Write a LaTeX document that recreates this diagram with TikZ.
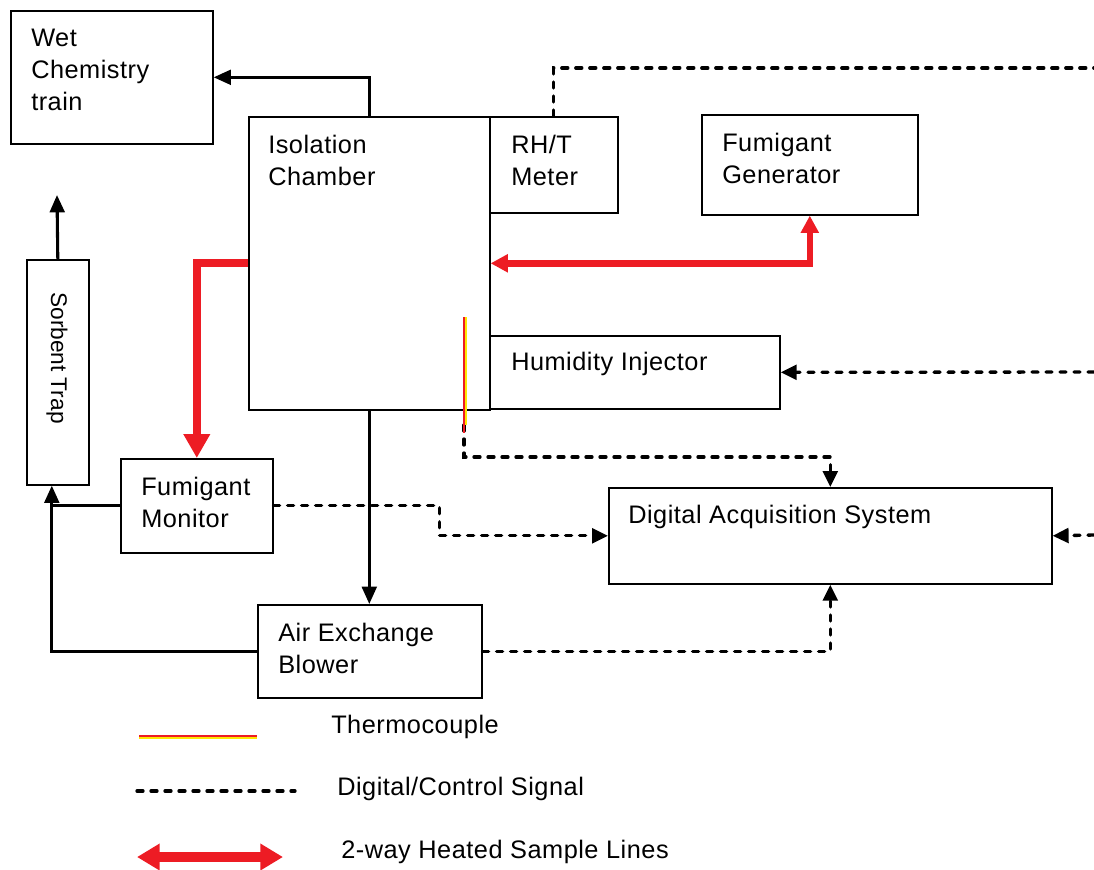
\documentclass[tikz,border=0pt]{standalone}
\usepackage{fontspec}
\setmainfont{Liberation Sans}[LetterSpace=2.0]
\newfontfamily\plainfont{Liberation Sans}
\usetikzlibrary{arrows.meta}
\definecolor{heatred}{RGB}{237,28,36}
\definecolor{tcyellow}{RGB}{255,230,0}
\newcommand{\px}{0.75pt}
\tikzset{
  box/.style={draw, line width=1.2pt, anchor=north west, inner sep=0pt},
  txt/.style={anchor=north west, inner sep=0pt, align=left, font=\fontsize{19}{24}\selectfont},
  flow/.style={line width=2.3pt, -{Triangle[length=13pt, width=11pt]}},
  signal/.style={line width=2.5pt, line cap=round, dash pattern=on 4.5pt off 6pt, -{Triangle[length=12pt, width=11pt]}},
  heat/.style={draw=heatred, line width=4.8pt, -{Triangle[length=13pt, width=13pt, fill=heatred]}},
}
\begin{document}
\begin{tikzpicture}[x=\px, y=-\px]
\useasboundingbox (0,0) rectangle (1094,869);
\node[box, minimum width=202*\px, minimum height=133*\px](wct)at(10,10){};
\node[box, minimum width=241*\px, minimum height=293*\px](iso)at(248,116){};
\node[box, minimum width=128*\px, minimum height=96*\px](rht)at(489,116){};
\node[box, minimum width=216*\px, minimum height=100*\px](fgen)at(701,114){};
\node[box, minimum width=290*\px, minimum height=73*\px](hinj)at(489,335){};
\node[box, minimum width=62*\px, minimum height=225*\px](sorb)at(26,259){};
\node[box, minimum width=152*\px, minimum height=94*\px](fmon)at(120,458){};
\node[box, minimum width=443*\px, minimum height=96*\px](das)at(608,487){};
\node[box, minimum width=224*\px, minimum height=93*\px](aeb)at(257,604){};
%
\node[txt](wctT)at(31,29){Wet\\Chemistry\\train};
\node[txt](isoT)at(268,135){Isolation\\Chamber};
\node[txt](rhtT)at(511,135){RH/T\\Meter};
\node[txt](fgenT)at(722,133){Fumigant\\Generator};
\node[txt](hinjT)at(511,352){Humidity Injector};
\node[txt](fmonT)at(141,477){Fumigant\\Monitor};
\node[txt](dasT)at(628,505){Digital Acquisition System};
\node[txt](aebT)at(278,623){Air Exchange\\Blower};
\node[txt, anchor=center, rotate=-90, font=\plainfont\fontsize{17}{20}\selectfont](sorbT)at(57,358){Sorbent Trap};
%
\coordinate(rhtout)at(1094,68);
\coordinate(hinjin)at(1094,372);
\coordinate(dasin)at(1094,535);
\coordinate(sorbout)at(57,195);
\coordinate(sorbin)at([xshift=-4.5pt]sorb.south);
\coordinate(tc)at(464,317);
\coordinate(tcend)at(464,425);
%
\draw[flow](iso.north)|-(wct.east);
\draw[flow](iso.south)--(iso.south|-aeb.north);
\draw[flow](aeb.west)-|(sorbin);
\draw[line width=2.3pt](fmon.west)--(fmon.west-|sorbin);
\draw[flow](sorb.north)--(sorbout);
%
\draw[signal, -](rht.north)|-(rhtout);
\draw[signal](hinjin)--(hinj.east);
\draw[signal](dasin)--(das.east);
\draw[signal](fmon.east)--++(166,0)|-(das.west);
\draw[signal](aeb.east)-|(das.south);
\draw[signal](tcend)--++(0,32)-|(das.north);
%
\draw[tcyellow, line width=2pt]([xshift=1pt]tc)--([xshift=1pt]tcend);
\draw[heatred, line width=1pt](tc)--([yshift=-6pt]tcend);
%
\draw[heat, {Triangle[length=13pt, width=13pt, fill=heatred]}-{Triangle[length=13pt, width=13pt, fill=heatred]}](fgen.south)|-(iso.east);
\draw[heat, line width=6pt, -{Triangle[length=18pt, width=19pt, fill=heatred]}](iso.west)-|(fmon.north);
%
\coordinate(lt1)at(139,736);
\coordinate(lt2)at(257,736);
\coordinate(ls1)at(137,791);
\coordinate(ls2)at(295,791);
\coordinate(lh1)at(137,857);
\coordinate(lh2)at(283,857);
\draw[tcyellow, line width=2pt]([yshift=-1pt]lt1)--([yshift=-1pt]lt2);
\draw[heatred, line width=1pt](lt1)--(lt2);
\draw[signal, -](ls1)--(ls2);
\draw[heat, line width=7.5pt, {Triangle[length=17pt, width=19pt, fill=heatred]}-{Triangle[length=17pt, width=19pt, fill=heatred]}](lh1)--(lh2);
\node[txt, anchor=west](ltT)at(331,727){Thermocouple};
\node[txt, anchor=west](lsT)at(337,789){Digital/Control Signal};
\node[txt, anchor=west](lhT)at(341,852){2-way Heated Sample Lines};
\end{tikzpicture}
\end{document}
